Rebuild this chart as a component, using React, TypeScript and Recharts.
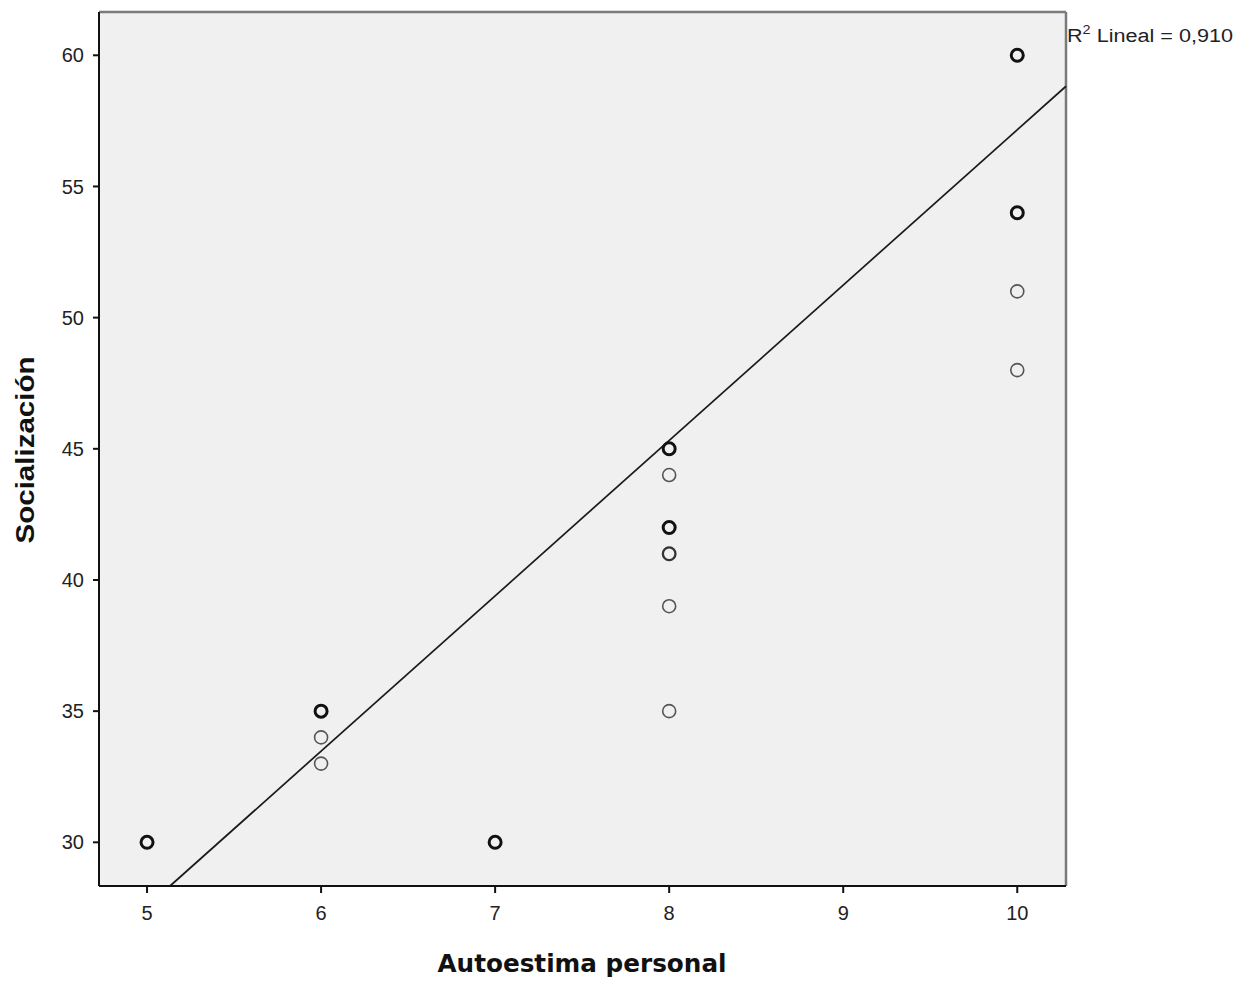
import React from "react";
import {
  ComposedChart,
  Scatter,
  XAxis,
  YAxis,
  ReferenceLine,
  Customized,
} from "recharts";

// Single cases (thin circles)
const singleX = [6, 6, 8, 8, 8, 10, 10];
const singleY = [34, 33, 44, 39, 35, 51, 48];
// Cases overlapping twice (medium circles)
const doubleX = [8];
const doubleY = [41];
// Cases overlapping many times (bold circles)
const multiX = [5, 6, 7, 8, 8, 10, 10];
const multiY = [30, 35, 30, 45, 42, 60, 54];

const xTicks = [5, 6, 7, 8, 9, 10];
const yTicks = [30, 35, 40, 45, 50, 55, 60];
const xDomain = [4.724, 10.28];
const yDomain = [28.335, 61.65];

// Linear fit line endpoints (where it meets the plot frame)
const fitX = [5.132, 10.28];
const fitY = [28.335, 58.82];
const r2Text = "0,910";

const toPoints = (xs: number[], ys: number[]) => xs.map((x, i) => ({ x, y: ys[i] }));
const singleData = toPoints(singleX, singleY);
const doubleData = toPoints(doubleX, doubleY);
const multiData = toPoints(multiX, multiY);

const FONT = "'Liberation Sans', Arial, sans-serif";

const makeCircle = (stroke: string, sw: number, r: number) => (props: any) => {
  const { cx, cy } = props;
  if (cx == null || cy == null) return <g />;
  return <circle cx={cx} cy={cy} r={r} fill="none" stroke={stroke} strokeWidth={sw} />;
};

const Frame = (props: any) => {
  const off = props.offset || {};
  const left = off.left ?? 91;
  const top = off.top ?? 4;
  const width = off.width ?? 967;
  const height = off.height ?? 874;
  return (
    <g>
      <line x1={left} y1={top} x2={left + width} y2={top} stroke="#7a7a7a" strokeWidth={2.5} />
      <line x1={left + width} y1={top} x2={left + width} y2={top + height} stroke="#7a7a7a" strokeWidth={2.5} />
      <text x={left + width + 1} y={top + 30} fontFamily={FONT} fontSize={18} fill="#222" textLength={166} lengthAdjust="spacingAndGlyphs">
        R<tspan fontSize={12} dy={-8}>2</tspan>
        <tspan dy={8}> Lineal = {r2Text}</tspan>
      </text>
    </g>
  );
};

const Background = (props: any) => {
  const off = props.offset || {};
  return (
    <rect x={off.left ?? 91} y={off.top ?? 4} width={off.width ?? 967} height={off.height ?? 874} fill="#f0f0f0" />
  );
};

export default function App() {
  return (
    <div style={{ width: 1240, height: 970 }}>
      <ComposedChart
        width={1240}
        height={970}
        margin={{ top: 4, right: 182, left: 11, bottom: 32 }}
      >
        <Customized component={Background} />
        <XAxis
          type="number"
          dataKey="x"
          domain={xDomain}
          ticks={xTicks}
          allowDataOverflow
          height={60}
          tickSize={7}
          tickMargin={13}
          axisLine={{ stroke: "#111", strokeWidth: 2 }}
          tickLine={{ stroke: "#111", strokeWidth: 2 }}
          tick={{ fontFamily: FONT, fontSize: 20, fill: "#222" }}
          label={{
            content: () => (
              <text
                x={582 - 8}
                y={964}
                textAnchor="middle"
                fontFamily="'DejaVu Sans', Verdana, sans-serif"
                fontWeight="bold"
                fontSize={24}
                fill="#111"
                textLength={289}
                lengthAdjust="spacingAndGlyphs"
              >
                Autoestima personal
              </text>
            ),
          }}
        />
        <YAxis
          type="number"
          dataKey="y"
          domain={yDomain}
          ticks={yTicks}
          allowDataOverflow
          width={80}
          tickSize={6}
          tickMargin={9}
          axisLine={{ stroke: "#111", strokeWidth: 2 }}
          tickLine={{ stroke: "#111", strokeWidth: 2 }}
          tick={{ fontFamily: FONT, fontSize: 20, fill: "#222" }}
          label={{
            content: () => (
              <text
                x={0}
                y={0}
                transform={`translate(${26}, ${442}) rotate(-90)`}
                textAnchor="middle"
                fontFamily={FONT}
                fontWeight="bold"
                fontSize={25}
                fill="#111"
                textLength={187}
                lengthAdjust="spacingAndGlyphs"
              >
                Socialización
              </text>
            ),
          }}
        />
        <ReferenceLine
          segment={[
            { x: fitX[0], y: fitY[0] },
            { x: fitX[1], y: fitY[1] },
          ]}
          stroke="#1a1a1a"
          strokeWidth={1.7}
          ifOverflow="visible"
        />
        <Scatter data={singleData} isAnimationActive={false} shape={makeCircle("#555", 1.6, 6.5)} />
        <Scatter data={doubleData} isAnimationActive={false} shape={makeCircle("#333", 2.3, 6.3)} />
        <Scatter data={multiData} isAnimationActive={false} shape={makeCircle("#111", 3, 6)} />
        <Customized component={Frame} />
      </ComposedChart>
    </div>
  );
}
